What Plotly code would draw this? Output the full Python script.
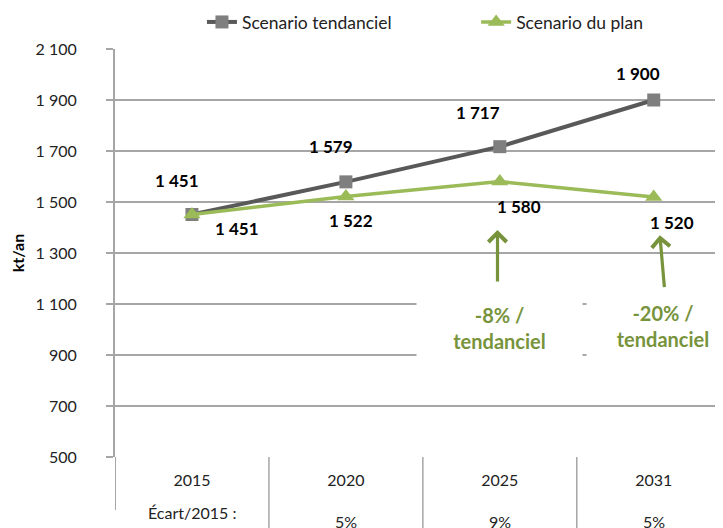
import plotly.graph_objects as go

years = ["2015", "2020", "2025", "2031"]
tendanciel = [1451, 1579, 1717, 1900]
plan = [1451, 1522, 1580, 1520]
ecart_2015 = ["", "5%", "9%", "5%"]
ecart_label = "Écart/2015 :"
gap_texts = ["-8% /<br>tendanciel", "-20% /<br>tendanciel"]
y_tickvals = [500, 700, 900, 1100, 1300, 1500, 1700, 1900, 2100]
y_ticktext = ["500", "700", "900", "1 100", "1 300", "1 500", "1 700", "1 900", "2 100"]

def fmt(v):
    return f"{v:,}".replace(",", " ")

FONT = "Lato"
GRAY_LINE = "#595959"
GRAY_MARK = "#7f7f7f"
GREEN = "#9bbb59"
GREEN_TXT = "#77933c"
GRID = "#a6a6a6"

fig = go.Figure()
fig.add_trace(go.Scatter(
    x=list(range(len(years))), y=tendanciel, name="Scenario tendanciel",
    mode="lines+markers", line=dict(color=GRAY_LINE, width=4),
    marker=dict(symbol="square", size=13, color=GRAY_MARK), legend="legend",
))
fig.add_trace(go.Scatter(
    x=list(range(len(years))), y=plan, name="Scenario du plan",
    mode="lines+markers", line=dict(color=GREEN, width=3.5),
    marker=dict(symbol="triangle-up", size=15, color=GREEN), legend="legend2",
))

ann = []
tend_off = [(-15, 34), (-15, 35), (-22, 34), (-16, 27)]
plan_off = [(45, -14), (5, -24), (19, -25), (18, -26)]
for i, v in enumerate(tendanciel):
    ann.append(dict(x=i, y=v, text=fmt(v), showarrow=False, xref="x", yref="y",
                    xshift=tend_off[i][0], yshift=tend_off[i][1],
                    font=dict(family=FONT, size=17, color="#000000", weight="bold")))
for i, v in enumerate(plan):
    ann.append(dict(x=i, y=v, text=fmt(v), showarrow=False, xref="x", yref="y",
                    xshift=plan_off[i][0], yshift=plan_off[i][1],
                    font=dict(family=FONT, size=17, color="#000000", weight="bold")))

box_pos = [(2.0, 1006, 163), (3.06, 1012, 150)]
for (bx, by, bw), t in zip(box_pos, gap_texts):
    ann.append(dict(x=bx, y=by, xref="x", yref="y", text=t, showarrow=False,
                    bgcolor="white", width=bw, height=76,
                    font=dict(family=FONT, size=20, color=GREEN_TXT, weight="bold")))
arrows = [((1.985, 1390), (1.985, 1182)), ((3.04, 1370), (3.07, 1160))]
for (tx, ty), (sx, sy) in arrows:
    ann.append(dict(x=tx, y=ty, ax=sx, ay=sy, xref="x", yref="y", axref="x", ayref="y",
                    showarrow=True, arrowhead=4, arrowsize=1.1, arrowwidth=3.2,
                    arrowcolor=GREEN_TXT, text=""))

ann.append(dict(x=0, y=-0.137, xref="x", yref="paper", text=ecart_label, showarrow=False,
                yanchor="middle", font=dict(family=FONT, size=16, color="#222222")))
for i, t in enumerate(ecart_2015):
    if t:
        ann.append(dict(x=i, y=-0.157, xref="x", yref="paper", text=t, showarrow=False,
                        yanchor="middle", font=dict(family=FONT, size=16, color="#222222")))

shapes = []
for i in range(len(years) - 1):
    shapes.append(dict(type="line", xref="x", yref="paper", x0=i + 0.5, x1=i + 0.5,
                       y0=0, y1=-0.2, line=dict(color=GRID, width=1.5)))
shapes.append(dict(type="line", xref="x", yref="paper", x0=-0.5, x1=-0.5,
                   y0=0, y1=-0.13, line=dict(color=GRID, width=2)))

leg_common = dict(orientation="h", yanchor="middle", y=1.066, xanchor="left",
                  font=dict(family=FONT, size=17.5, color="#222222"),
                  bgcolor="rgba(0,0,0,0)")

fig.update_layout(
    width=715, height=520,
    margin=dict(l=107, r=0, t=41, b=71, autoexpand=False),
    paper_bgcolor="white", plot_bgcolor="white",
    font=dict(family=FONT, size=16, color="#222222"),
    showlegend=True,
    legend=dict(x=0.143, **leg_common),
    legend2=dict(x=0.594, **leg_common),
    xaxis=dict(range=[-0.5, 3.45], tickmode="array", tickvals=list(range(len(years))),
               ticktext=years, showgrid=False, zeroline=False, showline=False,
               ticks="", ticklabelstandoff=12, fixedrange=True),
    yaxis=dict(range=[500, 2100], tickmode="array", tickvals=y_tickvals, ticktext=y_ticktext,
               showgrid=True, gridcolor=GRID, gridwidth=1.5, zeroline=False,
               showline=True, linecolor=GRID, linewidth=2,
               ticks="outside", ticklen=7, tickcolor=GRID, tickwidth=1.5,
               ticklabelstandoff=26,
               title=dict(text="<b>kt/an</b>", standoff=14,
                          font=dict(family=FONT, size=16, color="#000000"))),
    annotations=ann, shapes=shapes,
)

fig.write_html("out.html")
